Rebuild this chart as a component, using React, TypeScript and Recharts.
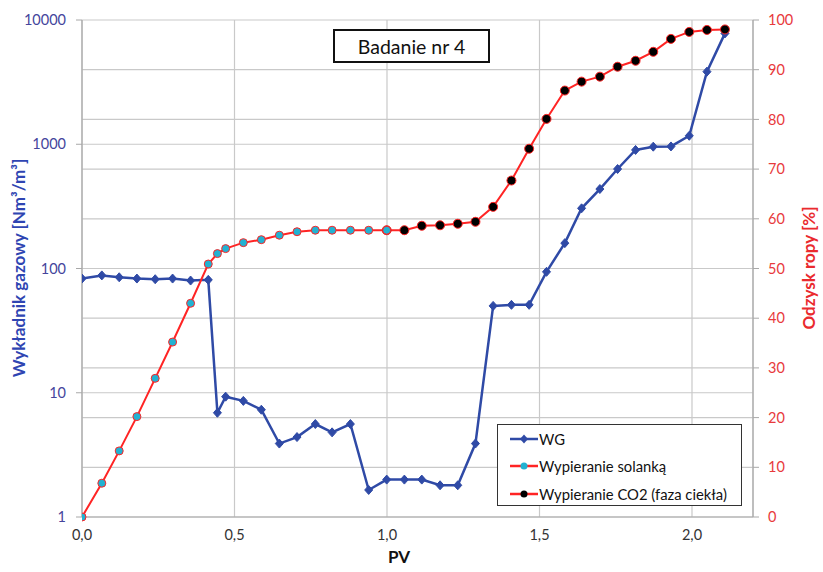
import { LineChart, Line, XAxis, YAxis, CartesianGrid, ReferenceLine, Legend } from 'recharts';

// PV values shared by all three series
const pv = [
  0, 0.065, 0.122, 0.18, 0.24, 0.297, 0.356, 0.414, 0.444, 0.471, 0.529, 0.588, 0.647, 0.705, 0.765, 0.82,
  0.88, 0.94, 0.999, 1.057, 1.114, 1.174, 1.232, 1.29, 1.348, 1.408, 1.466, 1.523, 1.583, 1.638, 1.698,
  1.756, 1.815, 1.873, 1.931, 1.991, 2.049, 2.108,
];

// WG – Wykładnik gazowy [Nm3/m3]
const wg = [
  83, 88, 85, 83, 82, 83, 80, 81, 6.9, 9.3, 8.6, 7.3, 3.9, 4.4, 5.6, 4.8, 5.6, 1.65, 2.0, 2.0, 2.0, 1.8,
  1.8, 3.9, 50, 51, 51, 94, 160, 305, 436, 632, 900, 956, 960, 1170, 3840, 7800,
];

// Wypieranie solanką – odzysk ropy [%]
const solanka = [0, 6.8, 13.3, 20.2, 27.9, 35.2, 43, 50.9, 53, 54, 55.2, 55.8, 56.7, 57.4, 57.7, 57.7, 57.7, 57.7, 57.7];

// Wypieranie CO2 (faza ciekła) – odzysk ropy [%], starts at the last brine point
const co2Start = 18;
const co2 = [
  57.7, 57.7, 58.6, 58.7, 59.0, 59.4, 62.4, 67.7, 74.1, 80.1, 85.8, 87.6, 88.6, 90.6, 91.8, 93.6, 96.2, 97.6,
  98.0, 98.1,
];

const xTicks = [0, 0.5, 1, 1.5, 2];
const leftTicks = [1, 10, 100, 1000, 10000];
const rightTicks = [0, 10, 20, 30, 40, 50, 60, 70, 80, 90, 100];

const data = pv.map((x, i) => ({
  pv: x,
  wg: wg[i],
  solanka: i < solanka.length ? solanka[i] : null,
  co2: i >= co2Start ? co2[i - co2Start] : null,
}));

const BLUE = '#2f4aa6';
const RED = '#ff2424';
const CYAN = '#22b2d2';
const GRID = '#c9c9c9';
const FONT = 'Lato, "Open Sans", sans-serif';

const legendItems = [
  { name: 'WG', color: BLUE, dot: 'diamond' },
  { name: 'Wypieranie solanką', color: RED, dot: CYAN },
  { name: 'Wypieranie CO2 (faza ciekła)', color: RED, dot: '#000' },
];

function Diamond(props: any) {
  const { cx, cy, index } = props;
  if (cx == null || cy == null) return <g key={`d${index}`} />;
  return (
    <path
      key={`d${index}`}
      d={`M${cx},${cy - 4.5} L${cx + 4},${cy} L${cx},${cy + 4.5} L${cx - 4},${cy} Z`}
      fill={BLUE}
      stroke={BLUE}
      strokeWidth={1}
    />
  );
}

function renderLegend() {
  return (
    <div
      style={{
        border: '1.5px solid #333',
        background: '#fff',
        width: 245,
        height: 82,
        boxSizing: 'border-box',
        padding: '0 0 0 12px',
        fontFamily: FONT,
        fontSize: 14.8,
        color: '#111',
      }}
    >
      {legendItems.map((it) => (
        <div key={it.name} style={{ display: 'flex', alignItems: 'center', height: 27.5 }}>
          <svg width={28} height={12} style={{ marginRight: 1 }}>
            <line x1={0} y1={6} x2={28} y2={6} stroke={it.color} strokeWidth={2.5} />
            {it.dot === 'diamond' ? (
              <path d="M14,1.5 L18,6 L14,10.5 L10,6 Z" fill={BLUE} />
            ) : (
              <circle cx={14} cy={6} r={3.5} fill={it.dot} />
            )}
          </svg>
          <span>{it.name}</span>
        </div>
      ))}
    </div>
  );
}

const LeftTitle = () => (
  <text
    x={18}
    y={268}
    transform="rotate(-90 18 268)"
    textAnchor="middle"
    dominantBaseline="central"
    fill="#2f45b2"
    fontFamily={FONT}
    fontWeight={700}
    fontSize={17}
  >
    Wykładnik gazowy [Nm³/m³]
  </text>
);

const RightTitle = () => (
  <text
    x={808}
    y={268}
    transform="rotate(-90 808 268)"
    textAnchor="middle"
    dominantBaseline="central"
    fill="#ea2a2e"
    fontFamily={FONT}
    fontWeight={700}
    fontSize={17}
  >
    Odzysk ropy [%]
  </text>
);

const BottomTitle = () => (
  <text x={399} y={556} textAnchor="middle" dominantBaseline="central" fill="#111" fontFamily={FONT} fontWeight={700} fontSize={17}>
    PV
  </text>
);

export default function App() {
  return (
    <div style={{ position: 'absolute', left: 0, top: 0, width: 823, height: 572, background: '#fff' }}>
      <LineChart width={823} height={572} data={data} margin={{ top: 20, right: 10, bottom: 0, left: 22 }}>
        <CartesianGrid yAxisId="right" stroke={GRID} strokeWidth={1.2} horizontalValues={rightTicks} verticalValues={[...xTicks, 2.2]} />
        {leftTicks.slice(1, 4).map((v) => (
          <ReferenceLine key={v} yAxisId="left" y={v} stroke={GRID} strokeWidth={1.2} />
        ))}
        <XAxis
          type="number"
          dataKey="pv"
          domain={[0, 2.2]}
          ticks={xTicks}
          allowDataOverflow
          tickFormatter={(v: number) => v.toFixed(1).replace('.', ',')}
          tick={{ fill: '#333', fontSize: 14.5, fontFamily: FONT }}
          tickLine={false}
          tickSize={6}
          tickMargin={7}
          axisLine={{ stroke: '#a8a8a8', strokeWidth: 1.2 }}
          height={55}
          label={{ content: () => <BottomTitle /> }}
        />
        <YAxis
          yAxisId="left"
          scale="log"
          domain={[1, 10000]}
          ticks={leftTicks}
          allowDataOverflow
          width={60}
          tick={{ fill: '#45459c', fontSize: 14.5, fontFamily: FONT }}
          tickLine={{ stroke: '#a8a8a8' }}
          tickSize={6}
          tickMargin={10}
          axisLine={{ stroke: '#a8a8a8', strokeWidth: 1.2 }}
          label={{ content: () => <LeftTitle /> }}
        />
        <YAxis
          yAxisId="right"
          orientation="right"
          domain={[0, 100]}
          ticks={rightTicks}
          width={60}
          tick={{ fill: '#e83a3c', fontSize: 14.5, fontFamily: FONT, textAnchor: 'start' }}
          tickLine={{ stroke: '#a8a8a8' }}
          tickSize={6}
          tickMargin={9}
          axisLine={{ stroke: '#a8a8a8', strokeWidth: 1.2 }}
          label={{ content: () => <RightTitle /> }}
        />
        <Line
          yAxisId="left"
          dataKey="wg"
          name="WG"
          stroke={BLUE}
          strokeWidth={2.5}
          dot={Diamond}
          isAnimationActive={false}
        />
        <Line
          yAxisId="right"
          dataKey="co2"
          name="Wypieranie CO2 (faza ciekła)"
          stroke={RED}
          strokeWidth={2}
          dot={{ r: 4.5, fill: '#000', stroke: RED, strokeWidth: 1 }}
          isAnimationActive={false}
        />
        <Line
          yAxisId="right"
          dataKey="solanka"
          name="Wypieranie solanką"
          stroke={RED}
          strokeWidth={2}
          dot={{ r: 4, fill: CYAN, stroke: RED, strokeWidth: 1 }}
          isAnimationActive={false}
        />
        <Legend
          content={renderLegend}
          layout="horizontal"
          align="center"
          verticalAlign="middle"
          wrapperStyle={{ left: 497, top: 424, width: 245, height: 82 }}
        />
      </LineChart>
      <div
        style={{
          position: 'absolute',
          left: 333,
          top: 29,
          width: 157,
          height: 34,
          boxSizing: 'border-box',
          border: '2px solid #111',
          background: '#fff',
          display: 'flex',
          alignItems: 'center',
          justifyContent: 'center',
          fontFamily: FONT,
          fontSize: 19.5,
          color: '#111',
        }}
      >
        Badanie nr 4
      </div>
    </div>
  );
}
